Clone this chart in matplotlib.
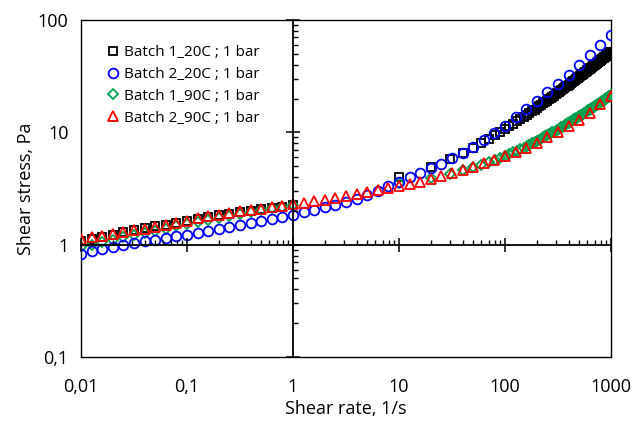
import matplotlib
matplotlib.use("Agg")
import matplotlib.pyplot as plt
from matplotlib.ticker import FixedLocator, FixedFormatter, LogLocator, NullFormatter

plt.rcParams['font.family'] = ['Open Sans', 'DejaVu Sans']

# ---------------- data ----------------
# log-spaced shear-rate grid (10 points per decade)
rate_log = [0.01, 0.0126, 0.0158, 0.02, 0.0251, 0.0316, 0.0398, 0.0501, 0.0631, 0.0794,
            0.1, 0.126, 0.158, 0.2, 0.251, 0.316, 0.398, 0.501, 0.631, 0.794,
            1.0, 1.26, 1.58, 2.0, 2.51, 3.16, 3.98, 5.01, 6.31, 7.94,
            10.0, 12.6, 15.8, 20.0, 25.1, 31.6, 39.8, 50.1, 63.1, 79.4,
            100.0, 126.0, 158.0, 200.0, 251.0, 316.0, 398.0, 501.0, 631.0, 794.0,
            1000.0]
rate_low = rate_log[:21]                      # 0.01 .. 1
rate_high = list(range(10, 1001, 10))         # 10 .. 1000, linear steps

b2_20 = [0.83, 0.87, 0.92, 0.95, 1.00, 1.035, 1.07, 1.11, 1.15, 1.19,
         1.23, 1.27, 1.33, 1.38, 1.44, 1.49, 1.56, 1.61, 1.69, 1.75,
         1.84, 1.94, 2.05, 2.17, 2.27, 2.40, 2.55, 2.75, 2.98, 3.30,
         3.61, 4.00, 4.38, 4.78, 5.25, 5.85, 6.60, 7.45, 8.50, 9.85,
         11.5, 13.7, 16.2, 18.9, 22.7, 27.2, 32.6, 40.1, 49.2, 60.4,
         74.1]

b2_90 = [1.12, 1.16, 1.20, 1.25, 1.30, 1.34, 1.39, 1.44, 1.49, 1.56,
         1.64, 1.73, 1.79, 1.85, 1.92, 1.98, 2.02, 2.08, 2.15, 2.22,
         2.29, 2.35, 2.43, 2.51, 2.60, 2.69, 2.80, 2.92, 3.04, 3.17,
         3.30, 3.45, 3.64, 3.84, 4.07, 4.33, 4.62, 4.94, 5.32, 5.72,
         6.10, 6.65, 7.30, 8.10, 9.00, 10.0, 11.3, 13.0, 15.0, 17.7,
         21.0]

b1_20_low = [1.07, 1.12, 1.17, 1.23, 1.29, 1.34, 1.40, 1.46, 1.51, 1.57,
             1.63, 1.70, 1.76, 1.82, 1.88, 1.94, 2.00, 2.06, 2.12, 2.18, 2.24]
b1_20_high = [4.00, 4.94, 5.78, 6.57, 7.32, 8.03, 8.72, 9.39, 10.05, 10.69,
              11.31, 11.92, 12.52, 13.12, 13.70, 14.27, 14.84, 15.41, 15.96, 16.51,
              17.05, 17.58, 18.11, 18.64, 19.16, 19.68, 20.19, 20.70, 21.21, 21.72,
              22.21, 22.70, 23.19, 23.68, 24.16, 24.65, 25.13, 25.61, 26.10, 26.58,
              27.04, 27.50, 27.96, 28.42, 28.88, 29.34, 29.80, 30.26, 30.72, 31.18,
              31.62, 32.06, 32.50, 32.94, 33.38, 33.82, 34.26, 34.70, 35.14, 35.58,
              36.01, 36.43, 36.86, 37.29, 37.71, 38.14, 38.57, 38.99, 39.42, 39.85,
              40.26, 40.67, 41.09, 41.50, 41.91, 42.33, 42.74, 43.15, 43.57, 43.98,
              44.38, 44.79, 45.19, 45.59, 46.00, 46.40, 46.80, 47.20, 47.61, 48.01,
              48.40, 48.80, 49.19, 49.58, 49.98, 50.37, 50.76, 51.15, 51.55, 51.94]

b1_90_low = [0.96, 1.00, 1.05, 1.10, 1.16, 1.21, 1.27, 1.33, 1.39, 1.46,
             1.53, 1.60, 1.67, 1.74, 1.81, 1.88, 1.95, 2.02, 2.10, 2.17, 2.25]
b1_90_high = [3.55, 3.93, 4.27, 4.58, 4.88, 5.16, 5.42, 5.68, 5.94, 6.18,
              6.42, 6.65, 6.88, 7.10, 7.32, 7.54, 7.76, 7.97, 8.19, 8.40,
              8.60, 8.80, 9.00, 9.20, 9.39, 9.59, 9.78, 9.98, 10.17, 10.36,
              10.54, 10.72, 10.90, 11.09, 11.27, 11.45, 11.63, 11.81, 11.99, 12.17,
              12.34, 12.51, 12.68, 12.85, 13.02, 13.19, 13.36, 13.53, 13.70, 13.87,
              14.03, 14.19, 14.36, 14.52, 14.68, 14.84, 15.00, 15.17, 15.33, 15.49,
              15.65, 15.80, 15.96, 16.11, 16.27, 16.43, 16.58, 16.74, 16.89, 17.05,
              17.20, 17.35, 17.50, 17.65, 17.81, 17.96, 18.11, 18.26, 18.41, 18.56,
              18.71, 18.85, 19.00, 19.14, 19.29, 19.44, 19.58, 19.73, 19.87, 20.02,
              20.16, 20.30, 20.45, 20.59, 20.73, 20.87, 21.01, 21.16, 21.30, 21.44]

labels = ["Batch 1_20C ; 1 bar", "Batch 2_20C ; 1 bar",
          "Batch 1_90C ; 1 bar", "Batch 2_90C ; 1 bar"]

xticks = [0.01, 0.1, 1, 10, 100, 1000]
xticklabels = ["0,01", "0,1", "1", "10", "100", "1000"]
yticks = [0.1, 1, 10, 100]
yticklabels = ["0,1", "1", "10", "100"]

# ---------------- figure ----------------
fig = plt.figure(figsize=(6.44, 4.23), dpi=100)
pos = [81 / 644, 66 / 423, 530 / 644, 337 / 423]
ax = fig.add_axes(pos)

ax.set_xscale('log')
ax.set_yscale('log')
ax.set_xlim(0.01, 1000)
ax.set_ylim(0.1, 100)

mew = 1.3
ax.plot(rate_low + rate_high, b1_20_low + b1_20_high, ls='none', marker='s', ms=5.6,
        mfc='none', mec='black', mew=mew, label=labels[0], zorder=3)
ax.plot(rate_log, b2_20, ls='none', marker='o', ms=7.0,
        mfc='none', mec='#0000FF', mew=mew, label=labels[1], zorder=4)
ax.plot(rate_low + rate_high, b1_90_low + b1_90_high, ls='none', marker='D', ms=4.6,
        mfc='none', mec='#00A050', mew=mew, label=labels[2], zorder=3)
ax.plot(rate_log, b2_90, ls='none', marker='^', ms=7.0,
        mfc='none', mec='#FF0000', mew=mew, label=labels[3], zorder=5)

for s in ax.spines.values():
    s.set_linewidth(1.0)
    s.set_color('black')

ax.xaxis.set_major_locator(FixedLocator(xticks))
ax.xaxis.set_major_formatter(FixedFormatter(xticklabels))
ax.yaxis.set_major_locator(FixedLocator(yticks))
ax.yaxis.set_major_formatter(FixedFormatter(yticklabels))
ax.xaxis.set_minor_formatter(NullFormatter())
ax.yaxis.set_minor_formatter(NullFormatter())
ax.tick_params(which='both', length=0)
ax.tick_params(axis='x', which='major', pad=15, labelsize=13)
ax.tick_params(axis='y', which='major', pad=9, labelsize=13)

ax.set_xlabel("Shear rate, 1/s", fontsize=13, labelpad=3)
ax.set_ylabel("Shear stress, Pa", fontsize=13, labelpad=2)

# crossing axes at x = 1 and y = 1
ax2 = fig.add_axes(pos, sharex=ax, sharey=ax)
ax2.patch.set_alpha(0)
ax2.spines['top'].set_visible(False)
ax2.spines['right'].set_visible(False)
ax2.spines['left'].set_position(('data', 1))
ax2.spines['bottom'].set_position(('data', 1))
ax2.spines['left'].set_linewidth(1.3)
ax2.spines['bottom'].set_linewidth(1.3)
ax2.xaxis.set_minor_locator(LogLocator(base=10, subs=range(2, 10)))
ax2.yaxis.set_minor_locator(LogLocator(base=10, subs=range(2, 10)))
ax2.tick_params(which='major', direction='inout', length=9.5, width=1.1,
                labelleft=False, labelbottom=False)
ax2.tick_params(which='minor', direction='in', length=3.8, width=1.0,
                labelleft=False, labelbottom=False)

leg = ax.legend(loc='upper left', bbox_to_anchor=(0.035, 0.944), frameon=False,
                fontsize=11, handlelength=0.9, handletextpad=0.3,
                labelspacing=0.45, borderaxespad=0.0)

fig.savefig("out.png", dpi=100)
